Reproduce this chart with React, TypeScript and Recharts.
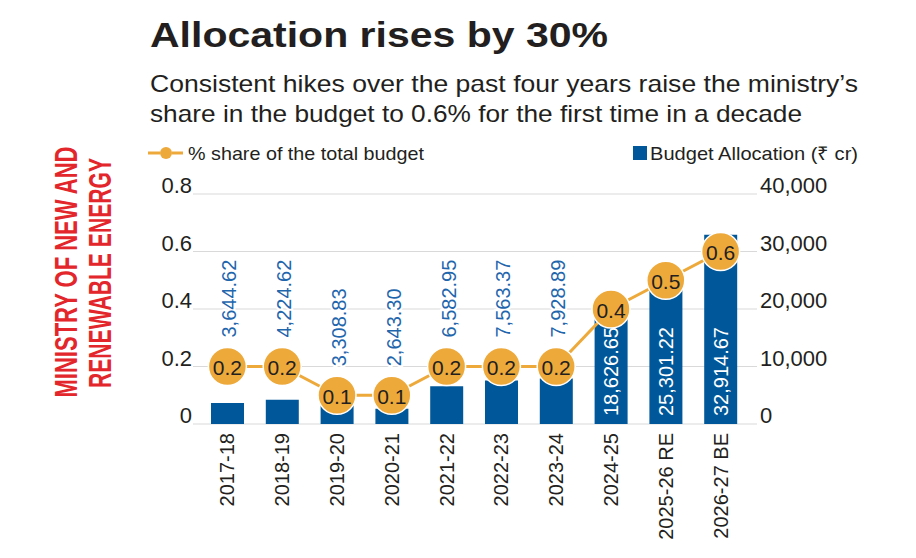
import React from "react";
import {
  ComposedChart,
  Bar,
  Line,
  XAxis,
  YAxis,
  CartesianGrid,
  LabelList,
} from "recharts";

const YEARS = [
  "2017-18",
  "2018-19",
  "2019-20",
  "2020-21",
  "2021-22",
  "2022-23",
  "2023-24",
  "2024-25",
  "2025-26 RE",
  "2026-27 BE",
];
const BUDGET = [
  3644.62, 4224.62, 3308.83, 2643.3, 6582.95, 7563.37, 7928.89, 18626.65,
  25301.22, 32914.67,
];
const SHARE = [0.2, 0.2, 0.1, 0.1, 0.2, 0.2, 0.2, 0.4, 0.5, 0.6];
const SHARE_TICKS = [0, 0.2, 0.4, 0.6, 0.8];
const BUDGET_TICKS = [0, 10000, 20000, 30000, 40000];

const BLUE = "#00589A";
const LABEL_BLUE = "#1F66AD";
const ORANGE = "#EEA93B";
const INK = "#231F20";
const RED = "#E3262B";
const FONT = "'Liberation Sans', Arial, sans-serif";

const data = YEARS.map((year, i) => ({
  year,
  budget: BUDGET[i],
  share: SHARE[i],
}));

const fmtBudget = (v: number) =>
  v.toLocaleString("en-US", { minimumFractionDigits: 2, maximumFractionDigits: 2 });

// tick text sits on the gridline, like the print version
const LeftTick = (props: any) => {
  const { x, y, payload } = props;
  const v = payload.value;
  return (
    <text x={x} y={y - 1} textAnchor="end" fontSize={22} fill={INK} fontFamily={FONT}>
      {v === 0 ? "0" : v.toFixed(1)}
    </text>
  );
};

const RightTick = (props: any) => {
  const { x, y, payload } = props;
  return (
    <text x={x} y={y - 1} textAnchor="start" fontSize={22} fill={INK} fontFamily={FONT}>
      {payload.value.toLocaleString("en-US")}
    </text>
  );
};

const YearTick = (props: any) => {
  const { x, y, payload } = props;
  return (
    <text
      transform={`translate(${x}, ${y}) rotate(-90)`}
      textAnchor="end"
      dominantBaseline="central"
      fontSize={20}
      fill={INK}
      fontFamily={FONT}
    >
      {payload.value}
    </text>
  );
};

const ShareDot = (props: any) => {
  const { cx, cy, value, index } = props;
  if (cx == null || cy == null) return null;
  return (
    <g key={`dot-${index}`}>
      <circle cx={cx} cy={cy} r={19} fill={ORANGE} stroke="#fff" strokeWidth={1.5} />
      <text
        x={cx}
        y={cy + 1}
        textAnchor="middle"
        dominantBaseline="central"
        fontSize={21}
        fill={INK}
        fontFamily={FONT}
      >
        {value.toFixed(1)}
      </text>
    </g>
  );
};

// small budgets: blue value written above the share dot
const AboveLabel = (props: any) => {
  const { x, y, index } = props;
  const v = BUDGET[index];
  if (v >= 10000) return null;
  return (
    <text
      transform={`translate(${x + 2}, ${y - 29}) rotate(-90)`}
      textAnchor="start"
      dominantBaseline="central"
      fontSize={20}
      fill={LABEL_BLUE}
      stroke="#fff"
      strokeWidth={4}
      paintOrder="stroke"
      fontFamily={FONT}
    >
      {fmtBudget(v)}
    </text>
  );
};

// big budgets: white value inside the bar
const InsideLabel = (props: any) => {
  const { x, y, width, height, index } = props;
  const v = BUDGET[index];
  if (v < 10000) return null;
  return (
    <text
      transform={`translate(${x + width / 2}, ${y + height - 8}) rotate(-90)`}
      textAnchor="start"
      dominantBaseline="central"
      fontSize={20}
      fill="#fff"
      fontFamily={FONT}
    >
      {fmtBudget(v)}
    </text>
  );
};

const Header = () => (
  <svg
    width={916}
    height={558}
    style={{ position: "absolute", left: 0, top: 0, pointerEvents: "none" }}
  >
    <text x={150} y={47} fontSize={35} fontWeight="bold" fill={INK} fontFamily={FONT}
      textLength={458} lengthAdjust="spacingAndGlyphs">
      Allocation rises by 30%
    </text>
    <text x={150} y={92} fontSize={24} fill={INK} fontFamily={FONT}
      textLength={708} lengthAdjust="spacingAndGlyphs">
      Consistent hikes over the past four years raise the ministry’s
    </text>
    <text x={150} y={122} fontSize={24} fill={INK} fontFamily={FONT}
      textLength={652} lengthAdjust="spacingAndGlyphs">
      share in the budget to 0.6% for the first time in a decade
    </text>

    {/* legend */}
    <line x1={148} y1={153} x2={160} y2={153} stroke={ORANGE} strokeWidth={3} />
    <line x1={172} y1={153} x2={183} y2={153} stroke={ORANGE} strokeWidth={3} />
    <circle cx={166} cy={153} r={6} fill={ORANGE} />
    <text x={188} y={160} fontSize={19} fill={INK} fontFamily={FONT}
      textLength={236} lengthAdjust="spacingAndGlyphs">
      % share of the total budget
    </text>
    <rect x={633} y={146} width={14} height={14} fill={BLUE} />
    <text x={650} y={160} fontSize={19} fill={INK} fontFamily={FONT}
      textLength={208} lengthAdjust="spacingAndGlyphs">
      Budget Allocation (₹ cr)
    </text>

    {/* side title */}
    <text transform="translate(66, 272) rotate(-90)" textAnchor="middle"
      dominantBaseline="central" fontSize={31} fontWeight="bold" fill={RED}
      fontFamily={FONT} textLength={251} lengthAdjust="spacingAndGlyphs">
      MINISTRY OF NEW AND
    </text>
    <text transform="translate(100, 273) rotate(-90)" textAnchor="middle"
      dominantBaseline="central" fontSize={31} fontWeight="bold" fill={RED}
      fontFamily={FONT} textLength={230} lengthAdjust="spacingAndGlyphs">
      RENEWABLE ENERGY
    </text>
  </svg>
);

export default function App() {
  return (
    <div
      style={{
        position: "absolute",
        left: 0,
        top: 0,
        width: 916,
        height: 558,
        background: "#fff",
        fontFamily: FONT,
      }}
    >
      <ComposedChart
        width={916}
        height={558}
        data={data}
        margin={{ top: 194, right: 69, left: 143, bottom: 14 }}
        barCategoryGap={0}
      >
        <CartesianGrid yAxisId="left" vertical={false} stroke="#d9d9d9" strokeWidth={1.2} />
        <XAxis
          dataKey="year"
          interval={0}
          height={120}
          axisLine={false}
          tickLine={false}
          tickSize={0}
          tickMargin={9}
          padding={{ left: 7, right: 9 }}
          tick={<YearTick />}
        />
        <YAxis
          yAxisId="left"
          orientation="left"
          width={50}
          domain={[0, 0.8]}
          ticks={SHARE_TICKS}
          axisLine={false}
          tickLine={false}
          tickSize={0}
          tickMargin={1}
          tick={<LeftTick />}
        />
        <YAxis
          yAxisId="right"
          orientation="right"
          width={90}
          domain={[0, 40000]}
          ticks={BUDGET_TICKS}
          axisLine={false}
          tickLine={false}
          tickSize={0}
          tickMargin={3}
          tick={<RightTick />}
        />
        <Bar
          yAxisId="right"
          dataKey="budget"
          fill={BLUE}
          barSize={33}
          isAnimationActive={false}
        >
          <LabelList dataKey="budget" content={<InsideLabel />} />
        </Bar>
        <Line
          yAxisId="left"
          dataKey="share"
          type="linear"
          stroke={ORANGE}
          strokeWidth={3}
          dot={<ShareDot />}
          activeDot={false}
          isAnimationActive={false}
        >
          <LabelList dataKey="share" content={<AboveLabel />} />
        </Line>
      </ComposedChart>
      <Header />
    </div>
  );
}
